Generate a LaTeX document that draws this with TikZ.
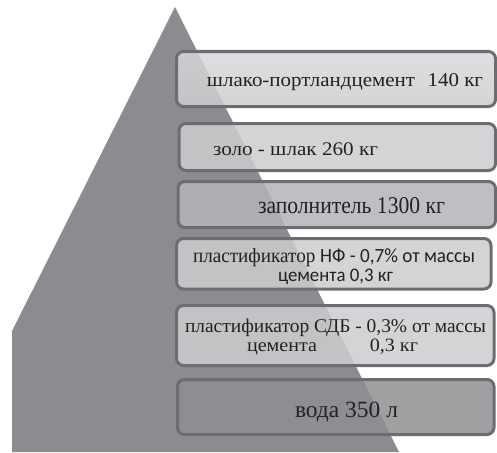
\documentclass[tikz,border=0pt]{standalone}
\usepackage{fontspec}
\usepackage{graphicx}
\setmainfont{Liberation Serif}
\newfontfamily\carl{Carlito}
\definecolor{tri}{HTML}{8B8C90}
\definecolor{edge}{HTML}{6C6D70}
\definecolor{lightbox}{HTML}{CDCDCF}
\definecolor{lighttop}{HTML}{D9D9DB}
\definecolor{midbox}{HTML}{B3B4B7}
\definecolor{darkbox}{HTML}{8E8F92}
\definecolor{ink}{HTML}{222222}
\tikzset{
  layer/.style={draw=edge, line width=3pt, rounded corners=7pt, fill opacity=0.85, inner sep=0pt, outer sep=0pt},
  lbl/.style={anchor=base, inner sep=0pt, text=ink, font=\fontsize{16}{18}\selectfont},
}
\begin{document}
\begin{tikzpicture}[x=1pt,y=-1pt]
\useasboundingbox (0,0) rectangle (497,452);
% pyramid
\fill[tri] (175,7) -- (399,452) -- (12,452) -- (12,331) -- cycle;
% layers
\node[layer, top color=lighttop, bottom color=lightbox, minimum width=319pt, minimum height=55pt] (b1) at (336,79) {};
\node[layer, fill=lightbox, minimum width=316.5pt, minimum height=47pt] (b2) at (337.25,147) {};
\node[layer, fill=midbox, minimum width=317.5pt, minimum height=46pt] (b3) at (336.75,204.5) {};
\node[layer, fill=lightbox, minimum width=314.5pt, minimum height=50.5pt] (b4) at (333.75,263.75) {};
\node[layer, fill=lightbox, minimum width=317.5pt, minimum height=60pt] (b5) at (335.25,335.5) {};
\node[layer, fill=darkbox, minimum width=316.5pt, minimum height=55pt] (b6) at (335.75,407) {};
% texts
\node[lbl] (t1) at (345,86) {\resizebox{276pt}{13pt}{шлако-портландцемент\hspace{0.6em}140 кг}};
\node[lbl] (t2) at (295.5,155) {\resizebox{165pt}{12.8pt}{золо - шлак 260 кг}};
\node[lbl] (t3) at (351.5,213) {\resizebox{187pt}{16pt}{заполнитель 1300 кг}};
\node[lbl] (t4) at (334,262) {\resizebox{282pt}{14pt}{пластификатор {\carl НФ - 0,7\% от массы}}};
\node[lbl] (t4b) at (335.5,281) {\resizebox{115pt}{12.5pt}{\carl цемента 0,3 кг}};
\node[lbl] (t5) at (335.5,332) {\resizebox{301pt}{13.5pt}{пластификатор СДБ - 0,3\% от массы}};
\node[lbl] (t5b) at (332.5,351) {\resizebox{171pt}{12.5pt}{цемента\hspace{42pt}0,3 кг}};
\node[lbl] (t6) at (346.5,417) {\resizebox{103pt}{15.5pt}{вода 350 л}};
\end{tikzpicture}
\end{document}
